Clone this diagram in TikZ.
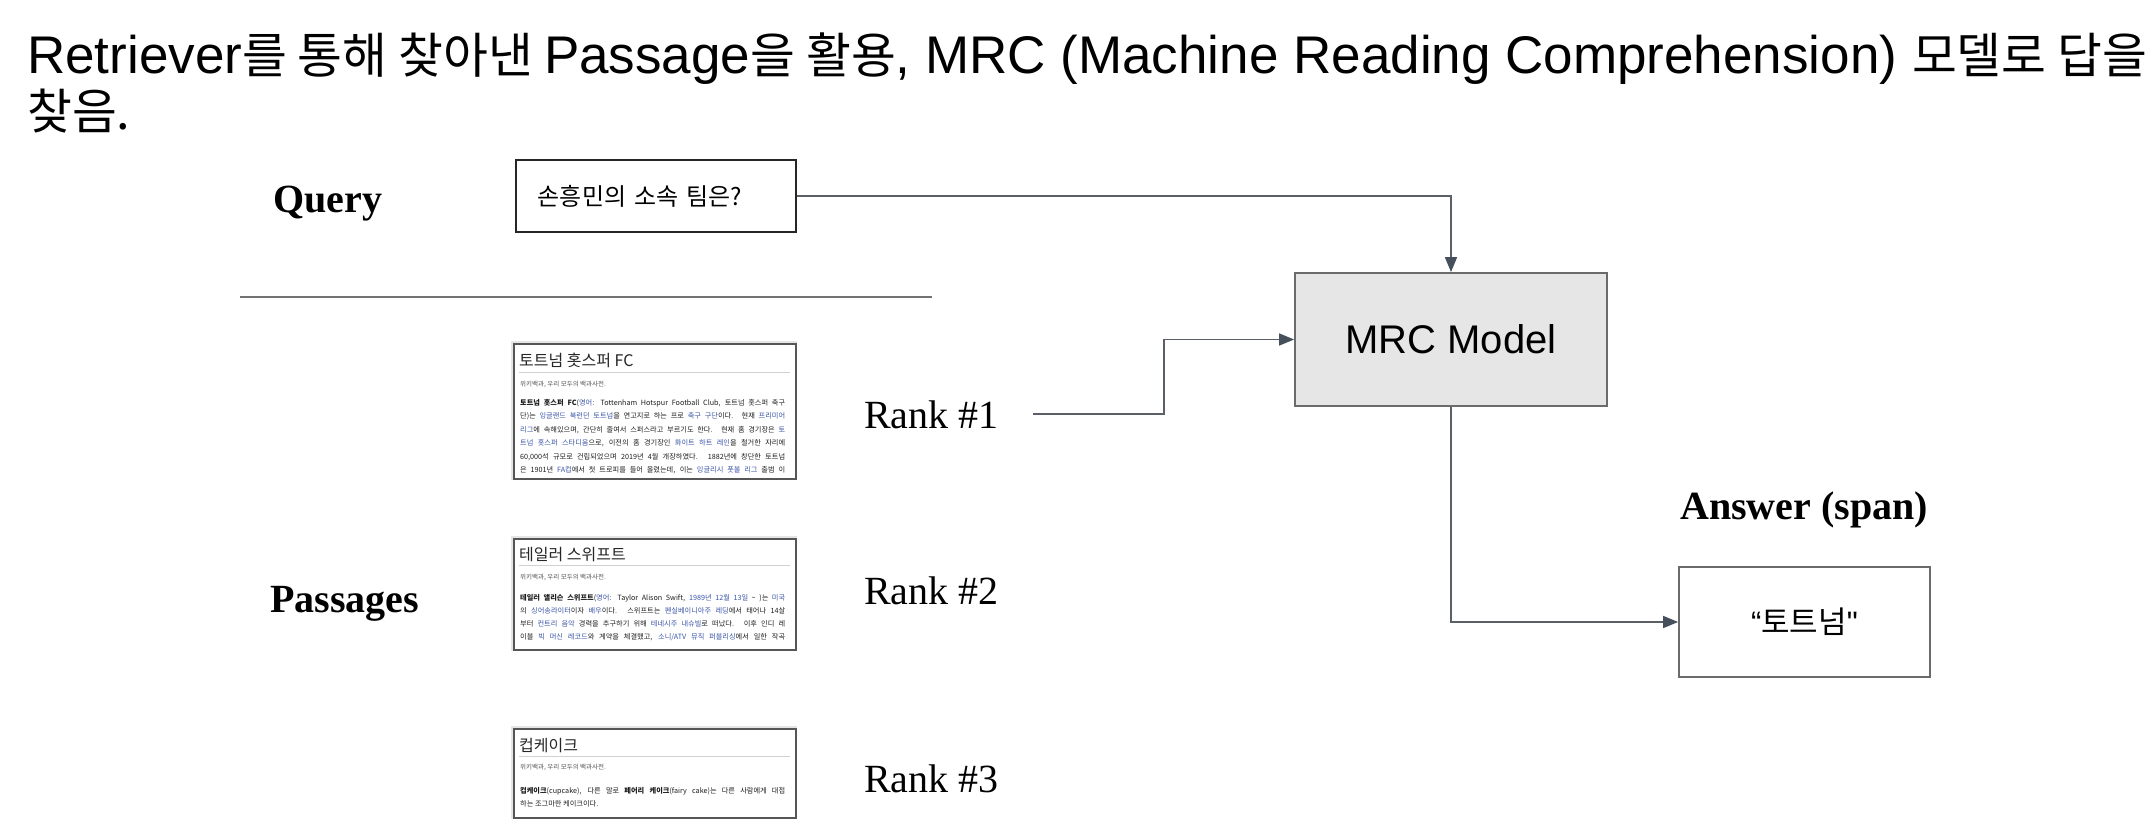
\documentclass[tikz,border=0pt]{standalone}
\usepackage{fontspec}
\setmainfont{Liberation Serif}
\newfontfamily\arialf{Liberation Sans}
\newfontfamily\kor{Noto Sans CJK KR}
\newfontfamily\korT[Scale=0.92]{Noto Sans CJK KR}
\usetikzlibrary{arrows.meta}
\definecolor{conncol}{HTML}{5B6068}
\definecolor{tipcol}{HTML}{46505C}
\definecolor{mrcfill}{HTML}{E6E6E6}
\definecolor{boxline}{HTML}{6B6B6B}
\definecolor{linkblue}{HTML}{3A55A8}
\definecolor{ptext}{HTML}{1E1E1E}
\definecolor{subgray}{HTML}{555555}
\newcommand{\lk}[1]{\textcolor{linkblue}{#1}}
\newcommand{\bd}[1]{{\bfseries #1}}
\newcommand{\pjust}[1]{\makebox[265pt][s]{#1}}
\tikzset{
  conn/.style={draw=conncol, line width=1.5pt, -{Triangle[length=15pt,width=12pt,color=tipcol]}},
  lbl/.style={font=\fontsize{40}{44}\selectfont\bfseries, inner sep=0pt, anchor=base west},
  rank/.style={font=\fontsize{40}{44}\selectfont, inner sep=0pt, anchor=base west},
  pbox/.style={draw=boxline!80!black, line width=1.6pt, fill=white, minimum width=282pt, anchor=north west, inner sep=0pt},
  ptitle/.style={font=\kor\fontsize{16}{18}\selectfont, text=black!85, inner sep=0pt, anchor=base west},
  psub/.style={font=\kor\fontsize{6.5}{7}\selectfont, text=subgray, inner sep=0pt, anchor=base west},
  pbody/.style={font=\kor\fontsize{7.2}{8}\selectfont, text=ptext, inner sep=0pt, anchor=base west},
  prule/.style={draw=black!18, line width=1pt},
}
\begin{document}
\begin{tikzpicture}[x=1pt,y=-1pt]
\useasboundingbox[fill=white] (0,0) rectangle (2150,836);

% title
\node[inner sep=0pt, anchor=base west, font=\arialf\fontsize{53}{59}\selectfont] (t1) at (27,73)
  {Retriever{\korT 를 통해 찾아낸 }Passage{\korT 을 활용}, MRC (Machine Reading Comprehension) {\korT 모델로 답을}};
\node[inner sep=0pt, anchor=base west, font=\korT\fontsize{53}{59}\selectfont] (t2) at (27,129) {찾음.};

% labels
\node[lbl] (lq) at (273,212) {Query};
\node[lbl] (lp) at (270,612) {Passages};
\node[lbl] (la) at (1680,519) {Answer (span)};

% separator
\draw[draw=black!55, line width=1.5pt] (240,297) -- (932,297);

% query box
\node[draw=black!85, line width=1.8pt, anchor=west, inner xsep=22pt, inner ysep=0pt,
      text width=236pt, minimum height=72pt, align=left, font=\kor\fontsize{24}{28}\selectfont] (q) at (515,196)
  {손흥민의 소속 팀은?};

% MRC model
\node[draw=boxline, fill=mrcfill, line width=1.8pt, minimum width=312pt, minimum height=133pt,
      font=\arialf\fontsize{40}{44}\selectfont] (m) at (1451,339.5) {MRC Model};

% answer
\node[draw=boxline, line width=1.8pt, minimum width=251pt, minimum height=110pt] (a) at (1804.5,622)
  {\fontsize{31}{34}\selectfont{\arialf “}{\kor 토트넘}{\arialf "}};

% rank labels
\node[rank] (r1) at (864,428) {Rank \#1};
\node[rank] (r2) at (864,604) {Rank \#2};
\node[rank] (r3) at (864,792) {Rank \#3};

% passage 1
\draw[draw=black!10, line width=4pt] (513,343) rectangle (795,478);
\node[pbox, minimum height=135pt] (p1) at (513,343) {};
\node[ptitle] (p1t) at (519,366) {토트넘 홋스퍼 FC};
\draw[prule] (519,372) -- (790,372);
\node[psub] (p1s) at (520,386) {위키백과, 우리 모두의 백과사전.};
\node[pbody] (p1a) at (520,405) {\pjust{\bd{토트넘 홋스퍼 FC}(\lk{영어}: Tottenham Hotspur Football Club, 토트넘 홋스퍼 축구}};
\node[pbody] (p1b) at (520,418.5) {\pjust{단)는 \lk{잉글랜드} \lk{북런던} \lk{토트넘}을 연고지로 하는 프로 \lk{축구} \lk{구단}이다. 현재 \lk{프리미어}}};
\node[pbody] (p1c) at (520,432) {\pjust{\lk{리그}에 속해있으며, 간단히 줄여서 스퍼스라고 부르기도 한다. 현재 홈 경기장은 \lk{토}}};
\node[pbody] (p1d) at (520,445.5) {\pjust{\lk{트넘 홋스퍼 스타디움}으로, 이전의 홈 경기장인 \lk{화이트 하트 레인}을 철거한 자리에}};
\node[pbody] (p1e) at (520,459) {\pjust{60,000석 규모로 건립되었으며 2019년 4월 개장하였다. 1882년에 창단한 토트넘}};
\node[pbody] (p1f) at (520,472.5) {\pjust{은 1901년 \lk{FA컵}에서 첫 트로피를 들어 올렸는데, 이는 \lk{잉글리시 풋볼 리그} 출범 이}};

% passage 2
\draw[draw=black!10, line width=4pt] (513,538) rectangle (795,649);
\node[pbox, minimum height=111pt] (p2) at (513,538) {};
\node[ptitle] (p2t) at (519,560) {테일러 스위프트};
\draw[prule] (519,565) -- (790,565);
\node[psub] (p2s) at (520,579) {위키백과, 우리 모두의 백과사전.};
\node[pbody] (p2a) at (520,600) {\pjust{\bd{테일러 앨리슨 스위프트}(\lk{영어}: Taylor Alison Swift, \lk{1989년} \lk{12월 13일} \textasciitilde{} )는 \lk{미국}}};
\node[pbody] (p2b) at (520,613) {\pjust{의 \lk{싱어송라이터}이자 \lk{배우}이다. 스위프트는 \lk{펜실베이니아주} \lk{레딩}에서 태어나 14살}};
\node[pbody] (p2c) at (520,626) {\pjust{부터 \lk{컨트리 음악} 경력을 추구하기 위해 \lk{테네시주} \lk{내슈빌}로 떠났다. 이후 인디 레}};
\node[pbody] (p2d) at (520,639) {\pjust{이블 \lk{빅 머신 레코드}와 계약을 체결했고, \lk{소니/ATV 뮤직 퍼블리싱}에서 일한 작곡}};

% passage 3
\draw[draw=black!10, line width=4pt] (513,728) rectangle (795,817);
\node[pbox, minimum height=89pt] (p3) at (513,728) {};
\node[ptitle] (p3t) at (519,751) {컵케이크};
\draw[prule] (519,756) -- (790,756);
\node[psub] (p3s) at (520,769) {위키백과, 우리 모두의 백과사전.};
\node[pbody] (p3a) at (520,793) {\pjust{\bd{컵케이크}(cupcake), 다른 말로 \bd{페어리 케이크}(fairy cake)는 다른 사람에게 대접}};
\node[pbody] (p3b) at (520,806) {하는 조그마한 케이크이다.};

% connectors
\draw[conn] (q.east) -| (m.north);
\coordinate (k1) at (1164,414);
\draw[conn] ([xshift=34pt,yshift=14pt]r1.base east) -- (k1) |- (m.west);
\draw[conn] (m.south) |- (a.west);
\end{tikzpicture}
\end{document}
